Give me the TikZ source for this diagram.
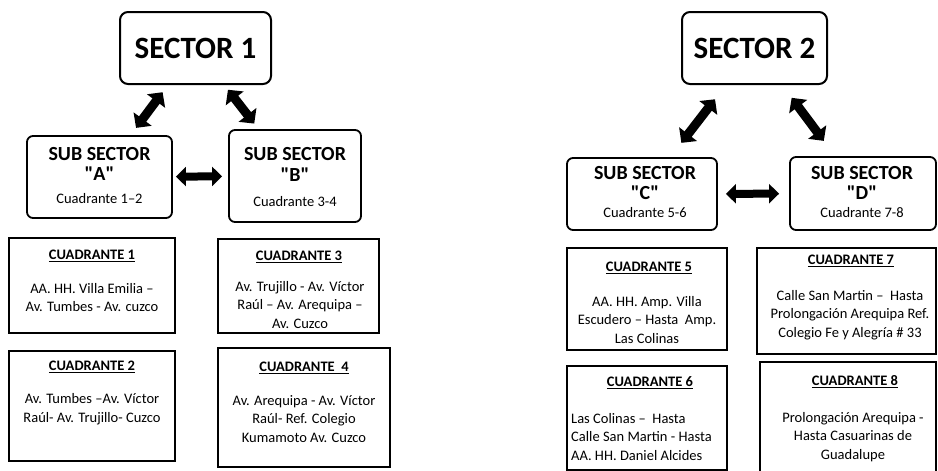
\documentclass[tikz,border=0pt]{standalone}
\usepackage{fontspec}
\setmainfont{Carlito}
\usetikzlibrary{arrows.meta}
\begin{document}
\begin{tikzpicture}[x=1pt,y=-1pt,
  sect/.style={draw, line width=2pt, rounded corners=8pt, inner sep=0pt, font=\fontsize{31}{36}\selectfont\bfseries},
  subb/.style={draw, line width=1.8pt, rounded corners=6pt, inner sep=0pt},
  subt/.style={inner sep=0pt, font=\fontsize{20}{24}\selectfont\bfseries},
  subq/.style={inner sep=0pt, font=\fontsize{14.5}{17}\selectfont},
  cbox/.style={draw, line width=2pt, inner sep=0pt},
  ctitle/.style={inner sep=0pt, font=\fontsize{14.5}{17}\selectfont\bfseries},
  cbody/.style={inner sep=0pt, align=center, font=\fontsize{14.5}{18.5}\selectfont},
  cbodyl/.style={inner sep=0pt, align=left, font=\fontsize{14.5}{18.5}\selectfont},
  dbl/.style={line width=9pt, {Triangle[length=11pt,width=22pt]}-{Triangle[length=11pt,width=22pt]}},
  hdbl/.style={line width=8pt, {Triangle[length=10pt,width=19pt]}-{Triangle[length=10pt,width=19pt]}}
]
\useasboundingbox (0,0) rectangle (938,471);
\clip (0,0) rectangle (938,471);

% ---------- Sector 1 ----------
\node[sect, minimum width=151pt, minimum height=72pt] (s1) at (195.5,48) {SECTOR 1};
\node[subb, minimum width=145pt, minimum height=82pt] (sa) at (99.5,177) {};
\node[subt] (sa1) at (99.5,154) {SUB SECTOR};
\node[subt] (sa2) at (99.5,174) {\textquotedbl A\textquotedbl};
\node[subq] (sa3) at (99.5,199) {Cuadrante 1–2};
\node[subb, minimum width=132pt, minimum height=92pt] (sb) at (295,176) {};
\node[subt] (sb1) at (295,154) {SUB SECTOR};
\node[subt] (sb2) at (295,175) {\textquotedbl B\textquotedbl};
\node[subq] (sb3) at (295,202) {Cuadrante 3-4};

\draw[dbl, shorten <=9pt, shorten >=9pt] (s1) -- (sa);
\draw[dbl, shorten <=6pt, shorten >=7pt] (s1) -- (sb);
\draw[hdbl, shorten <=3pt, shorten >=6pt] (sa) -- (sb);

\node[cbox, minimum width=166pt, minimum height=95pt] (c1) at (92,285.5) {};
\node[ctitle] (c1t) at (92,256) {\underline{CUADRANTE 1}};
\node[cbody] (c1b) at (92,297.5) {AA. HH. Villa Emilia –\\Av. Tumbes - Av. cuzco};

\node[cbox, minimum width=166pt, minimum height=110pt] (c2) at (92,406) {};
\node[ctitle] (c2t) at (92,367) {\underline{CUADRANTE 2}};
\node[cbody] (c2b) at (92,409) {Av. Tumbes –Av. Víctor\\Raúl- Av. Trujillo- Cuzco};

\node[cbox, minimum width=161pt, minimum height=94pt] (c3) at (298.5,286) {};
\node[ctitle] (c3t) at (299,257) {\underline{CUADRANTE 3}};
\node[cbody] (c3b) at (300,305) {Av. Trujillo - Av. Víctor\\Raúl – Av. Arequipa –\\Av. Cuzco};

\node[cbox, minimum width=172pt, minimum height=119pt] (c4) at (304,407.5) {};
\node[ctitle] (c4t) at (304,368) {\underline{CUADRANTE\ \ 4}};
\node[cbody] (c4b) at (304,419) {Av. Arequipa - Av. Víctor\\Raúl- Ref. Colegio\\Kumamoto Av. Cuzco};

% ---------- Sector 2 ----------
\node[sect, minimum width=145pt, minimum height=72pt] (s2) at (754.5,48) {SECTOR 2};
\node[subb, minimum width=150pt, minimum height=72pt] (sc) at (642,194) {};
\node[subt] (sc1) at (645,173) {SUB SECTOR};
\node[subt] (sc2) at (645,193) {\textquotedbl C\textquotedbl};
\node[subq] (sc3) at (645,213) {Cuadrante 5-6};
\node[subb, minimum width=146pt, minimum height=73pt] (sd) at (863,193.5) {};
\node[subt] (sd1) at (862,173) {SUB SECTOR};
\node[subt] (sd2) at (862,193) {\textquotedbl D\textquotedbl};
\node[subq] (sd3) at (862,213) {Cuadrante 7-8};

\draw[dbl, shorten <=18pt, shorten >=18pt] (s2) -- (sc);
\draw[dbl, shorten <=16pt, shorten >=19pt] (s2) -- (sd);
\draw[hdbl, shorten <=8pt, shorten >=10pt] (sc) -- (sd);

\node[cbox, minimum width=160pt, minimum height=102pt] (c5) at (647,299) {};
\node[ctitle] (c5t) at (649,268) {\underline{CUADRANTE 5}};
\node[cbody] (c5b) at (647,320) {AA. HH. Amp. Villa\\Escudero – Hasta\ \ Amp.\\Las Colinas};

\node[cbox, minimum width=179pt, minimum height=106pt] (c7) at (846.5,301) {};
\node[ctitle] (c7t) at (851,261) {\underline{CUADRANTE 7}};
\node[cbody] (c7b) at (850,315) {Calle San Martin –\ \ Hasta\\Prolongación Arequipa Ref.\\Colegio Fe y Alegría \# 33};

\node[cbox, minimum width=160pt, minimum height=104pt] (c6) at (647,418) {};
\node[ctitle] (c6t) at (650,383) {\underline{CUADRANTE 6}};
\node[cbodyl, anchor=west] (c6b) at (571,437) {Las Colinas –\ \ Hasta\\Calle San Martin - Hasta\\AA. HH. Daniel Alcides};

\node[cbox, minimum width=176pt, minimum height=122pt] (c8) at (848,423) {};
\node[ctitle] (c8t) at (855,382) {\underline{CUADRANTE 8}};
\node[cbody] (c8b) at (853,437) {Prolongación Arequipa -\\Hasta Casuarinas de\\Guadalupe};
\end{tikzpicture}
\end{document}
